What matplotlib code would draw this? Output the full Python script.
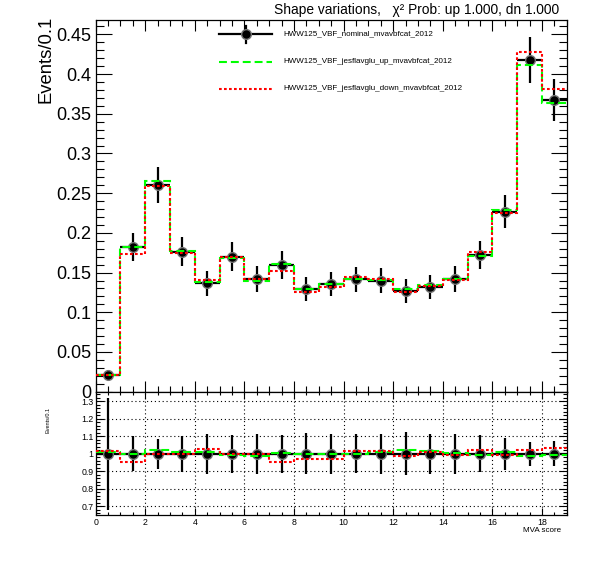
import numpy as np
import matplotlib
matplotlib.use('Agg')
import matplotlib.pyplot as plt
from matplotlib.lines import Line2D
from matplotlib.ticker import MultipleLocator, FixedLocator

plt.rcParams['font.family'] = ['Liberation Sans', 'DejaVu Sans']

# --- data ---
bin_edges = np.arange(0, 20, 1)
nominal = [0.0210, 0.1820, 0.2600, 0.1760, 0.1365, 0.1700, 0.1415, 0.1596, 0.1290, 0.1356,
           0.1415, 0.1400, 0.1270, 0.1320, 0.1420, 0.1720, 0.2267, 0.4177, 0.3674]
nominal_err = [0.0067, 0.0180, 0.0227, 0.0183, 0.0157, 0.0182, 0.0163, 0.0171, 0.0152, 0.0155,
               0.0159, 0.0160, 0.0155, 0.0152, 0.0163, 0.0180, 0.0206, 0.0285, 0.0262]
shape_up = [0.0212, 0.1820, 0.2652, 0.1774, 0.1381, 0.1688, 0.1394, 0.1606, 0.1290, 0.1353,
            0.1415, 0.1411, 0.1295, 0.1344, 0.1424, 0.1706, 0.2292, 0.4114, 0.3641]
shape_down = [0.0213, 0.1736, 0.2590, 0.1753, 0.1403, 0.1700, 0.1415, 0.1524, 0.1251, 0.1313,
              0.1440, 0.1422, 0.1257, 0.1331, 0.1411, 0.1760, 0.2249, 0.4273, 0.3806]

legend_labels = ['HWW125_VBF_nominal_mvavbfcat_2012',
                 'HWW125_VBF_jesflavglu_up_mvavbfcat_2012',
                 'HWW125_VBF_jesflavglu_down_mvavbfcat_2012']
main_yticks = [0, 0.05, 0.1, 0.15, 0.2, 0.25, 0.3, 0.35, 0.4, 0.45]
main_yticklabels = ['0', '0.05', '0.1', '0.15', '0.2', '0.25', '0.3', '0.35', '0.4', '0.45']
ratio_yticks = [0.7, 0.8, 0.9, 1.0, 1.1, 1.2, 1.3]
ratio_yticklabels = ['0.7', '0.8', '0.9', '1', '1.1', '1.2', '1.3']
title = 'Shape variations,   χ² Prob: up 1.000, dn 1.000'

nom = np.array(nominal)
centers = 0.5 * (bin_edges[:-1] + bin_edges[1:])
ratio_up = np.array(shape_up) / nom
ratio_down = np.array(shape_down) / nom
ratio_err = np.array(nominal_err) / nom

W, H = 596, 572
fig = plt.figure(figsize=(W / 100, H / 100), dpi=100)

def fx(px):
    return px / W

def fy(py):
    return 1 - py / H

ax = fig.add_axes([fx(95.7), fy(391.7), fx(566.7) - fx(95.7), fy(20) - fy(391.7)])
rax = fig.add_axes([fx(95.7), fy(515), fx(566.7) - fx(95.7), fy(391.7) - fy(515)])

green = '#00ff00'
red = '#ff0000'
green_ls = (0, (3.8, 1.9))
red_ls = (0, (1.3, 1.1))

# main pad
ax.errorbar(centers, nominal, xerr=0.5, yerr=nominal_err, fmt='o', color='black',
            ms=7, mfc='black', mec='0.45', mew=1.0, elinewidth=1.6, capsize=0, zorder=2)
ax.stairs(shape_up, bin_edges, baseline=None, color=green, lw=1.5, ls=green_ls, zorder=3)
ax.stairs(shape_down, bin_edges, baseline=None, color=red, lw=1.5, ls=red_ls, zorder=4)
ax.set_xlim(0, 19)
ax.set_ylim(0, 0.4681)
ax.yaxis.set_major_locator(FixedLocator(main_yticks))
ax.set_yticklabels(main_yticklabels)
ax.yaxis.set_minor_locator(MultipleLocator(0.01))
ax.xaxis.set_major_locator(MultipleLocator(2))
ax.xaxis.set_minor_locator(MultipleLocator(0.5))
ax.tick_params(axis='both', which='both', direction='in', top=True, right=True,
               labelbottom=False, width=0.8)
ax.tick_params(axis='y', which='major', length=11.5, labelsize=13, pad=3)
ax.tick_params(axis='y', which='minor', length=5.8)
ax.tick_params(axis='x', which='major', length=8)
ax.tick_params(axis='x', which='minor', length=4.2)
for s in ax.spines.values():
    s.set_linewidth(0.9)

# ratio pad
rax.errorbar(centers, np.ones_like(nom), xerr=0.5, yerr=ratio_err, fmt='o', color='black',
             ms=7, mfc='black', mec='0.45', mew=1.0, elinewidth=1.6, capsize=0, zorder=2)
rax.stairs(ratio_up, bin_edges, baseline=None, color=green, lw=1.5, ls=green_ls, zorder=3)
rax.stairs(ratio_down, bin_edges, baseline=None, color=red, lw=1.5, ls=red_ls, zorder=4)
rax.set_xlim(0, 19)
rax.set_ylim(0.650, 1.355)
rax.yaxis.set_major_locator(FixedLocator(ratio_yticks))
rax.set_yticklabels(ratio_yticklabels)
rax.yaxis.set_minor_locator(MultipleLocator(0.02))
rax.xaxis.set_major_locator(MultipleLocator(2))
rax.xaxis.set_minor_locator(MultipleLocator(0.5))
rax.grid(True, which='major', color='black', ls=(0, (1, 2.5)), lw=0.8)
rax.set_axisbelow(True)
rax.tick_params(axis='both', which='both', direction='in', top=True, right=True,
                labelsize=6.3, width=0.8)
rax.tick_params(axis='y', which='major', length=6, pad=1.5)
rax.tick_params(axis='y', which='minor', length=3)
rax.tick_params(axis='x', which='major', length=5, pad=2)
rax.tick_params(axis='x', which='minor', length=2.5)
for s in rax.spines.values():
    s.set_linewidth(0.9)

# texts
fig.text(fx(559), fy(14), title, ha='right', va='baseline', fontsize=9.9)
fig.text(fx(46), fy(16), 'Events/0.1', rotation=90, ha='center', va='top', fontsize=13.3)
fig.text(fx(48.5), fy(420), 'Events/0.1', rotation=90, ha='center', va='center', fontsize=4)
fig.text(fx(561), fy(531), 'MVA score', ha='right', va='center', fontsize=5.8)

# legend
rows = [34, 61.5, 89]
fig.add_artist(Line2D([fx(219), fx(272)], [fy(rows[0])] * 2, color='black', lw=1.6,
                      transform=fig.transFigure))
fig.add_artist(Line2D([fx(245.5)] * 2, [fy(26), fy(42.7)], color='black', lw=1.6,
                      transform=fig.transFigure))
fig.add_artist(Line2D([fx(245.5)], [fy(rows[0])], marker='o', ms=7, mfc='black', mec='0.45',
                      mew=1.0, transform=fig.transFigure))
fig.add_artist(Line2D([fx(219), fx(272)], [fy(rows[1])] * 2, color=green, lw=1.5, ls=green_ls,
                      transform=fig.transFigure))
fig.add_artist(Line2D([fx(219), fx(272)], [fy(rows[2])] * 2, color=red, lw=1.5, ls=red_ls,
                      transform=fig.transFigure))
for r, lab in zip(rows, legend_labels):
    fig.text(fx(283), fy(r), lab, ha='left', va='center', fontsize=5.8)

fig.savefig('out.png', dpi=100)
